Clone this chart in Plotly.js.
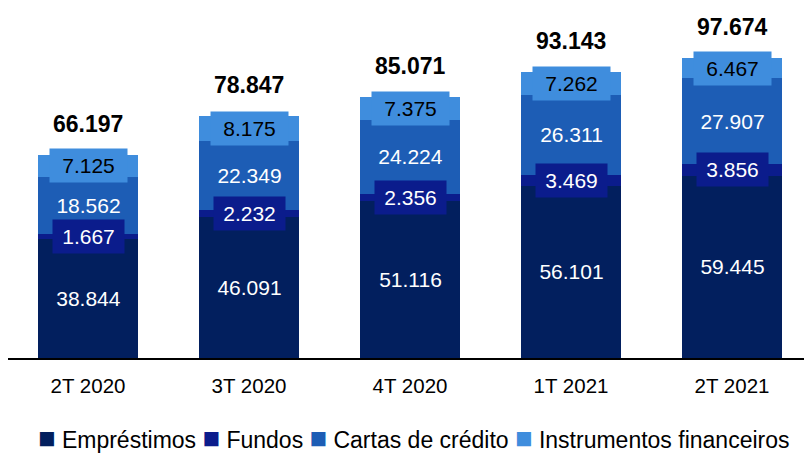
<!DOCTYPE html>
<html><head><meta charset="utf-8">
<script src="https://cdn.plot.ly/plotly-3.0.1.min.js"></script>
<style>html,body{margin:0;padding:0;background:#fff}</style>
</head><body>
<div id="chart" style="width:804px;height:453px"></div>
<script>
const categories = ["2T 2020", "3T 2020", "4T 2020", "1T 2021", "2T 2021"];
const emprestimos = [38.844, 46.091, 51.116, 56.101, 59.445];
const fundos = [1.667, 2.232, 2.356, 3.469, 3.856];
const cartas = [18.562, 22.349, 24.224, 26.311, 27.907];
const instrumentos = [7.125, 8.175, 7.375, 7.262, 6.467];
const totals = [66.197, 78.847, 85.071, 93.143, 97.674];

const seriesNames = ["Empréstimos", "Fundos", "Cartas de crédito", "Instrumentos financeiros"];
const seriesData = [emprestimos, fundos, cartas, instrumentos];
const colors = ["#021F5E", "#0B1C8C", "#1D5DB5", "#3F8DDD"];
const textColors = ["#ffffff", "#ffffff", "#ffffff", "#000000"];
const boxed = [false, true, false, true];
const FONT = "Liberation Sans, Arial, sans-serif";

const traces = seriesData.map((vals, i) => ({
  type: "bar",
  name: seriesNames[i],
  x: categories,
  y: vals,
  marker: {color: colors[i], line: {width: 0}},
  hoverinfo: "none",
  showlegend: false
}));

const annotations = [];
categories.forEach((c, j) => {
  let base = 0;
  seriesData.forEach((vals, i) => {
    const v = vals[j];
    annotations.push({
      x: c, y: base + v / 2, xref: "x", yref: "y",
      text: v.toFixed(3), showarrow: false,
      font: {family: FONT, size: 21, color: textColors[i]},
      bgcolor: boxed[i] ? colors[i] : "rgba(0,0,0,0)",
      width: i === 3 ? 75 : 69, height: 31, borderpad: 1,
      xanchor: "center", yanchor: "middle"
    });
    base += v;
  });
  annotations.push({
    x: c, y: totals[j], xref: "x", yref: "y",
    text: "<b>" + totals[j].toFixed(3) + "</b>", showarrow: false,
    font: {family: FONT, size: 23, color: "#000000"},
    xanchor: "center", yanchor: "middle", yshift: 31
  });
});

// Legend drawn as a single text line with coloured square glyphs
const legendText = seriesNames.map((n, i) =>
  '<span style="color:' + colors[i] + ';font-size:29px">■</span> ' + n).join(" ");
annotations.push({
  x: 0.51, y: -80 / 358, xref: "paper", yref: "paper",
  text: legendText, showarrow: false,
  font: {family: FONT, size: 23, color: "#000000"},
  xanchor: "center", yanchor: "middle"
});

const layout = {
  width: 804, height: 453,
  margin: {l: 8, r: 0, t: 0, b: 95},
  barmode: "stack",
  bargap: 0.38,
  paper_bgcolor: "#ffffff", plot_bgcolor: "#ffffff",
  font: {family: FONT, color: "#000000"},
  showlegend: false,
  xaxis: {
    type: "category", range: [-0.497, 4.447],
    showline: true, linecolor: "#000000", linewidth: 2,
    ticks: "", showgrid: false, zeroline: false, automargin: false,
    tickfont: {family: FONT, size: 20.5, color: "#000000"},
    ticklabelstandoff: 8
  },
  yaxis: {
    range: [0, 116.7], visible: false, showgrid: false, zeroline: false, automargin: false
  },
  annotations: annotations
};

Plotly.newPlot("chart", traces, layout, {displayModeBar: false, staticPlot: true});
</script>
</body></html>
